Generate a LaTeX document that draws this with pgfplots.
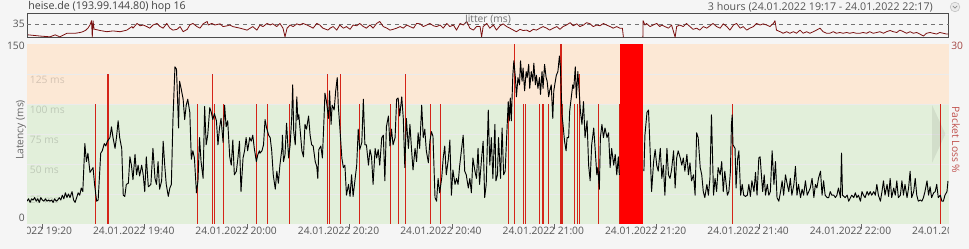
\documentclass[border=0pt]{standalone}
\usepackage{fontspec}
\setmainfont{Open Sans}
\usepackage{pgfplots}
\pgfplotsset{compat=1.18}
\definecolor{bgc}{HTML}{F5F5F5}
\definecolor{okgreen}{HTML}{E2EFDA}
\definecolor{warnpeach}{HTML}{FCE8D5}
\definecolor{lossred}{HTML}{D42418}
\definecolor{jitred}{HTML}{7A1010}
\definecolor{txt}{HTML}{555555}
\definecolor{losstxt}{HTML}{C0504D}
\newcommand{\fs}{\fontsize{7.7}{9}\selectfont}
\tikzset{tl/.style={font=\fs, text=txt, anchor=north, inner sep=0pt, xshift=-8.25pt, yshift=-2pt}}
\begin{document}
\begin{tikzpicture}
\fill[bgc] (0,0) rectangle (726.75pt,186.75pt);
% ---------- background axis (latency scale, bands, ticks)
\begin{axis}[
  scale only axis, width=691.125pt, height=135pt,
  at={(20.25pt,18.75pt)}, anchor=south west,
  xmin=0, xmax=180, ymin=0, ymax=150,
  axis x line*=bottom, axis y line*=left,
  axis line style={draw=black!60, line width=0.75pt},
  ytick=\empty,
  xtick={3,23,...,163}, xticklabels={,,,,,,,,},
  xtick align=outside, major tick length=4pt,
  tick style={draw=black!60, line width=0.6pt},
  clip=false]
\fill[okgreen] (axis cs:0,0) rectangle (axis cs:180,100);
\fill[warnpeach] (axis cs:0,100) rectangle (axis cs:180,150);
\pgfplotsinvokeforeach{25,50,75,100,125}{
  \draw[black!8, line width=0.6pt] (axis cs:0,#1) -- (axis cs:180,#1);
  \node[anchor=north west, font=\fs, text=black, text opacity=0.16, inner sep=0pt, xshift=2pt, yshift=-1.5pt] at (axis cs:0,#1) {#1 ms};
}
\begin{scope}
\clip ([yshift=-20pt]axis cs:0,0) rectangle (axis cs:180,0);
\node[tl] at (axis cs:3,0) {24.01.2022 19:20};
\node[tl] at (axis cs:23,0) {24.01.2022 19:40};
\node[tl] at (axis cs:43,0) {24.01.2022 20:00};
\node[tl] at (axis cs:63,0) {24.01.2022 20:20};
\node[tl] at (axis cs:83,0) {24.01.2022 20:40};
\node[tl] at (axis cs:103,0) {24.01.2022 21:00};
\node[tl] at (axis cs:123,0) {24.01.2022 21:20};
\node[tl] at (axis cs:143,0) {24.01.2022 21:40};
\node[tl] at (axis cs:163,0) {24.01.2022 22:00};
\node[tl] at (axis cs:183,0) {24.01.2022 22:20};
\end{scope}
\end{axis}
% ---------- packet loss axis
\begin{axis}[
  scale only axis, width=691.125pt, height=135pt,
  at={(20.25pt,18.75pt)}, anchor=south west,
  xmin=0, xmax=180, ymin=0, ymax=30, hide axis]
\addplot[ycomb, draw=lossred, line width=0.85pt, mark=none] coordinates {
(13.4,20)(15.7,25)(15.9,25)(33.3,20)(36.2,25)(36.7,20)(38.3,20)(44.9,20)(46.9,20)(51.2,20)
(58.7,25)(59.1,20)(61.2,25)(64.9,20)(71.0,20)(72.5,20)(73.9,25)(78.8,20)(80.8,20)
(94.1,20)(95.3,30)(96.9,20)(97.4,20)(100.1,20)(100.8,20)(101.8,20)(104.3,30)(104.5,20)
(107.0,20)(107.6,20)(108.0,25)(111.7,20)(115.8,20)(137.8,20)(178.5,20)};
\addplot[fill=red, draw=none, mark=none] coordinates {(115.9,0)(115.9,30)(120.4,30)(120.4,0)} -- cycle;
\end{axis}
% ---------- latency line
\begin{axis}[
  scale only axis, width=691.125pt, height=135pt,
  at={(20.25pt,18.75pt)}, anchor=south west,
  xmin=0, xmax=180, ymin=0, ymax=150, hide axis, unbounded coords=jump]
\addplot[black, line width=0.7pt, line join=round, mark=none] coordinates {
(0,19)(0.3,21)(0.6,18)(0.9,21)(1.2,20)(1.5,22)(1.8,19)(2.1,21)(2.4,18)(2.7,22)(3.0,20)(3.3,19)(3.6,21)(3.9,19)(4.2,20)(4.5,19)(4.8,20)(5.1,18)(5.4,21)(5.7,19)(6.0,20)(6.3,22)(6.6,20)(6.9,24)(7.2,21)(7.5,26)(7.8,22)(8.1,25)(8.4,22)(8.8,27)(9.1,20)(9.4,18)(9.7,22)(10.0,26)(10.3,24)(10.6,30)(10.9,27)(11.3,67)(11.6,52)(11.9,59)(12.3,43)(12.6,45)(12.9,47)(13.2,33)(13.6,19)(13.9,20)(14.4,59)(14.7,61)(15.1,67)(15.4,65)(15.7,69)(16.2,72)(16.5,81)(16.8,72)(17.2,63)(17.5,73)(17.8,86)(18.1,72)(18.5,63)(18.8,24)(19.1,23)(19.4,33)(19.8,34)(20.1,56)(20.4,49)(20.7,37)(21.1,58)(21.4,41)(21.7,49)(22.0,40)(22.4,49)(22.7,41)(23.0,27)(23.3,56)(23.7,31)(24.2,33)(24.6,63)(25.0,38)(25.3,33)(25.6,52)(25.9,29)(26.3,36)(26.6,69)(26.9,49)(27.2,33)(27.6,23)(27.9,30)(28.2,33)(28.5,86)(28.9,131)(29.2,129)(29.5,93)(29.6,80)(29.8,119)(30.1,113)(30.5,104)(30.8,87)(31.1,99)(31.4,104)(31.8,93)(32.1,54)(32.4,61)(32.7,55)(33.1,26)(33.4,36)(33.7,72)(34.0,52)(34.4,38)(34.7,98)(35.0,66)(35.3,74)(35.7,97)(36.0,93)(36.3,87)(36.6,92)(37.0,86)(37.3,66)(37.6,80)(37.9,88)(38.3,68)(38.6,99)(38.9,81)(39.2,86)(39.6,56)(39.9,49)(40.2,70)(40.5,41)(40.9,44)(41.2,55)(41.5,69)(41.8,27)(42.2,55)(42.5,61)(42.8,72)(43.1,61)(43.5,72)(43.8,69)(44.1,74)(44.4,63)(44.8,52)(45.1,58)(45.4,61)
(45.5,59)(45.9,61)(46.2,66)(46.5,87)(46.8,80)(47.2,74)(47.5,72)(47.8,61)(48.1,41)(48.5,29)(48.8,44)(49.1,34)(49.4,49)(49.8,63)(49.9,74)(50.1,52)(50.4,58)(50.7,84)(51.1,55)(51.4,66)(51.7,88)(51.9,116)(52.1,77)(52.4,66)(52.7,106)(52.9,87)(53.1,91)(53.4,76)(53.7,61)(54.0,56)(54.3,83)(54.6,79)(55.0,90)(55.3,74)(55.6,66)(55.9,65)(56.3,52)(56.6,48)(56.8,38)(57.0,62)(57.4,65)(57.7,55)(58.0,86)(58.2,109)(58.5,102)(58.9,88)(59.1,111)(59.4,83)(59.6,99)(60.0,95)(60.3,111)(60.6,122)(60.8,99)(61.1,81)(61.5,55)(61.8,47)(62.1,49)(62.4,24)(62.8,33)(63.1,23)(63.4,41)(63.7,23)(64.1,38)(64.4,49)(64.7,79)(65.0,62)(65.4,68)(65.7,104)(66.0,66)(66.3,66)(66.7,49)(67.0,62)(67.3,56)(67.6,33)(68.0,63)(68.3,55)(68.6,62)(68.9,49)(69.3,72)(69.6,74)(69.9,36)(70.2,81)(70.6,90)(70.9,65)(71.2,79)(71.5,66)(71.9,72)(72.2,104)(72.5,105)(72.8,90)(73.2,106)(73.5,88)(73.8,47)(74.1,88)(74.5,63)(74.8,83)(75.1,63)(75.4,45)(75.8,63)(76.1,52)(76.4,76)(76.7,63)(77.1,99)(77.4,72)(77.7,79)(78.0,61)(78.4,51)(78.7,69)(79.0,77)(79.3,73)(79.7,22)(80.0,19)(80.3,38)(80.6,26)(81.0,38)(81.3,55)(81.6,65)(81.9,41)(82.3,54)(82.6,70)(82.9,24)(83.2,45)(83.6,33)(83.9,38)(84.2,33)(84.5,48)(84.9,63)(85.2,74)(85.5,44)(85.8,41)(86.2,30)(86.5,38)(86.8,26)(87.1,55)(87.5,44)(87.8,38)(88.1,63)(88.4,33)(88.8,55)(89.1,69)(89.4,22)(89.7,33)(90.1,95)(90.4,49)(90.7,72)
(91.0,38)(91.4,83)(91.6,36)(91.9,41)(92.1,72)(92.5,38)(92.8,80)(93.1,41)(93.4,44)(93.8,83)(94.0,102)(94.2,86)(94.4,105)(94.6,86)(94.9,124)(95.1,136)(95.4,122)(95.6,106)(95.9,122)(96.2,116)(96.4,136)(96.7,119)(96.9,130)(97.2,111)(97.5,127)(97.7,122)(98.0,133)(98.2,113)(98.5,127)(98.8,119)(99.0,134)(99.3,116)(99.5,124)(99.8,113)(100.1,122)(100.3,108)(100.6,127)(100.8,113)(101.1,133)(101.4,122)(101.6,119)(101.9,106)(102.1,111)(102.4,116)(102.7,88)(102.9,111)(103.2,119)(103.4,124)(103.7,127)(104.0,140)(104.2,130)(104.5,91)(104.7,83)(105.0,69)(105.3,61)(105.5,72)(105.8,72)(106.0,94)(106.3,105)(106.6,116)(106.8,113)(107.1,131)(107.3,105)(107.6,127)(107.9,108)(108.1,94)(108.4,83)(108.7,102)(109.0,72)(109.4,86)(109.7,49)(110.0,36)(110.3,66)(110.7,80)(111.0,61)(111.3,41)(111.5,47)(111.8,29)(112.0,72)(112.3,83)(112.6,72)(112.9,80)(113.3,72)(113.6,76)(113.9,47)(114.2,63)(114.6,49)(114.9,58)(115.2,41)(115.5,56)(115.7,41)(118,nan)
(120.5,44)(120.7,74)(121.1,93)(121.4,95)(121.7,63)(122.0,27)(122.4,52)(122.7,62)(123.0,49)(123.3,44)(123.7,63)(124.0,38)(124.3,49)(124.6,24)(125.0,63)(125.3,41)(125.6,38)(125.9,45)(126.3,61)(126.6,30)(126.9,55)(127.2,61)(127.6,55)(127.9,49)(128.2,55)(128.5,44)(128.9,58)(129.2,41)(129.5,51)(129.8,36)(130.2,41)(130.5,24)(130.8,76)(131.1,72)(131.5,47)(131.8,41)(132.1,27)(132.4,22)(132.8,33)(133.1,24)(133.4,38)(133.7,91)(134.1,24)(134.4,38)(134.7,27)(135.0,47)(135.4,41)(135.7,52)(136.0,27)(136.3,44)
(136.8,24)(137.1,27)(137.4,44)(137.6,83)(137.75,91)(137.9,66)(138.3,63)(138.5,30)(138.8,54)(139.05,61)(139.4,24)(139.7,33)(140.0,24)(140.35,23)(140.7,24)(141.0,33)(141.3,23)(141.6,36)(142.0,27)(142.3,43)(142.6,24)(142.95,55)(143.2,56)(143.5,38)(143.7,27)(144.0,41)(144.25,24)(144.6,33)(144.9,24)(145.2,27)(145.55,61)(145.9,33)(146.2,52)(146.5,22)(146.85,19)(147.2,27)(147.5,36)(147.8,24)(148.15,41)(148.5,33)(148.8,27)(149.1,38)(149.4,24)(149.8,33)(150.1,48)(150.4,24)(150.7,33)(151.1,22)(151.4,29)(151.7,24)(152.05,36)(152.4,24)(152.7,27)(153.0,30)(153.35,38)(153.7,22)(154.0,33)(154.3,30)(154.6,38)(155.0,44)(155.3,24)(155.6,36)(155.9,24)(156.3,22)(156.6,22)(156.9,27)(157.2,24)(157.6,24)(157.9,22)(158.2,24)(158.5,30)(158.9,22)(159.1,59)(159.3,24)(159.8,22)(160.2,24)(160.5,19)(161.1,24)(161.5,22)(161.8,26)(162.1,22)(162.4,24)(162.8,19)(163.1,27)(163.4,24)(163.7,22)(164.1,27)(164.4,24)(164.7,27)(165.0,24)(165.4,27)(165.7,24)(166.0,33)(166.3,24)(166.7,19)(167.0,27)(167.3,36)(167.6,24)(168.0,33)(168.3,23)(168.6,38)(168.9,22)(169.3,30)(169.6,24)(169.9,36)(170.2,22)(170.6,24)(170.9,36)(171.2,24)(171.5,33)(171.9,22)(172.2,30)(172.5,44)(172.8,22)(173.2,27)(173.5,38)(173.8,24)(174.1,19)(174.5,20)(174.8,19)(175.1,22)(175.4,27)(175.8,36)(176.1,24)(176.4,31)(176.7,22)(177.1,26)(177.4,27)(177.7,33)(178.0,22)(178.4,24)(178.7,19)(179.0,19)(179.3,24)(179.7,27)(179.9,36)};
\end{axis}
% ---------- jitter strip
\begin{axis}[
  scale only axis, width=691.125pt, height=18pt,
  at={(20.25pt,158.25pt)}, anchor=south west,
  xmin=0, xmax=180, ymin=0, ymax=61,
  axis line style={draw=black!70, line width=0.75pt},
  xtick=\empty, ytick=\empty, unbounded coords=jump, clip=false]
\draw[black!55, dash pattern=on 3pt off 3pt, line width=0.5pt] (axis cs:0,35) -- (axis cs:180,35);
\addplot[jitred, line width=0.6pt, line join=round, mark=none] coordinates {
(0.2,8)(2.5,5)(4.5,3)(5.5,8)(6.4,3)(7.8,12)(9.4,12)(10.4,14)(10.9,16)(11.5,20)(11.9,25)(12.3,33)(12.6,44)(12.75,2)(12.9,44)(13.1,22)(13.3,22)(14.3,19)(15.6,16)(16.8,18)(18.2,16)(19.5,20)(20.5,29)(20.7,25)(21.5,37)(22.1,31)(22.7,33)(23.4,29)(24.0,25)(24.6,33)(25.4,37)(26.0,29)(26.6,25)(27.3,37)(27.9,25)(28.5,20)(29.3,22)(29.9,29)(30.5,16)(31.3,22)(31.8,33)(32.4,37)(33.2,29)(33.8,25)(34.4,36)(35.2,42)(35.4,33)(36.1,37)(36.7,33)(37.7,36)(38.3,29)(39.1,31)(39.6,33)(40.2,29)(41.6,25)(43.0,20)(43.6,25)(44.1,29)(44.9,20)(45.5,33)(46.1,29)(46.9,37)(47.5,33)(48.0,36)(48.8,29)(49.4,37)(50.0,25)(50.4,3)(50.8,25)(51.4,33)(52.0,29)(52.7,36)(53.3,33)(53.9,37)(54.7,33)(55.3,29)(55.9,25)(56.6,37)(57.2,33)(57.8,25)(58.8,20)
(59.2,25)(59.8,29)(60.5,20)(61.1,33)(61.8,25)(62.4,29)(63.1,22)(63.7,33)(64.4,31)(65.0,37)(65.7,29)(66.3,25)(67.0,33)(67.6,25)(68.3,37)(68.9,42)(69.6,29)(70.3,25)(70.9,20)(71.5,22)(72.2,25)(72.9,29)(73.5,25)(74.2,33)(74.8,29)(75.5,25)(76.1,37)(76.8,36)(77.4,29)(78.1,33)(78.7,37)(79.4,31)(80.0,29)(80.7,33)(81.3,25)(82.0,37)(82.6,29)(83.3,33)(83.9,20)(84.6,37)(85.2,33)(85.9,42)(86.5,25)(87.2,20)(87.8,29)(88.5,29)(88.8,3)(89.1,29)(89.8,37)(90.4,25)(91.1,33)(91.7,20)(92.4,31)(93.0,36)(93.7,29)(94.3,25)(95.0,20)(95.6,16)(96.3,22)(96.9,19)(97.6,20)(98.2,16)(98.9,22)(99.5,20)(100.2,25)(100.8,29)(101.5,25)(102.1,20)(102.8,25)(103.5,29)(104.1,22)(104.7,29)(105.4,33)(106.1,39)(106.7,31)(107.4,36)(108.0,29)(108.7,33)(109.3,39)(110.0,36)(110.6,29)(111.3,33)(111.9,31)(112.6,37)(113.2,33)(113.9,29)(114.5,25)(115.2,29)(115.8,25)(116.3,25)(116.5,2)(118,nan)
(120.3,2)(120.35,44)(120.7,33)(121.0,37)(121.7,29)(122.3,33)(123.0,37)(123.6,29)(124.0,33)(124.6,29)(125.3,25)(125.9,33)(126.2,20)(126.6,2)(126.9,29)(127.5,33)(128.2,29)(128.8,37)(129.5,29)(130.1,22)(130.8,25)(131.4,20)(132.1,29)(132.8,25)(133.4,31)(134.0,37)(134.7,29)(135.4,25)(136.0,36)(136.7,29)(137.3,20)(138.0,33)(138.6,37)(139.3,25)(139.9,29)(140.6,20)(141.2,25)(141.9,29)(142.5,37)(143.2,33)(143.8,36)(144.5,33)(145.1,29)(145.8,37)(146.1,44)(146.4,20)(147.1,16)(147.7,12)(148.4,16)(149.0,12)(149.7,16)(150.3,12)(151.0,20)(151.6,12)(152.3,16)(152.9,12)(153.6,16)(154.2,20)(154.9,25)(155.5,16)(156.2,12)(156.8,12)(157.5,16)(158.1,12)(158.8,14)(159.4,12)(160.1,14)(160.7,12)(161.4,14)(162.0,12)(162.7,12)(163.3,14)(164.0,12)(164.6,16)(165.3,12)(166.0,14)(166.6,16)(167.3,12)(167.9,16)(168.6,19)(169.2,16)(169.9,14)(170.5,20)(171.2,16)(171.8,12)(172.5,16)(173.1,12)(173.8,14)(174.4,10)(175.1,5)(175.7,12)(176.4,14)(177.0,12)(177.7,10)(178.3,14)(179.0,12)(179.6,10)(180,10)};
\end{axis}
% ---------- texts
\node[anchor=west, font=\fontsize{8}{9.6}\selectfont, text=black!75, inner sep=0pt] at (21pt,181.5pt) {heise.de (193.99.144.80) hop 16};
\node[anchor=east, font=\fontsize{8}{9.6}\selectfont, text=txt, inner sep=0pt] at (699.75pt,181.5pt) {3 hours (24.01.2022 19:17 - 24.01.2022 22:17)};
\draw[black!25, fill=black!8, line width=0.4pt] (716.25pt,181.5pt) circle (3.6pt);
\draw[black!45, line width=0.5pt] (714.6pt,182.3pt) -- (716.25pt,180.6pt) -- (717.9pt,182.3pt);
\node[font=\fs, text=black!55, inner sep=0pt] at (366pt,171.75pt) {Jitter (ms)};
\node[anchor=east, font=\fs, text=txt, inner sep=0pt] at (18.75pt,168.75pt) {35};
\node[anchor=east, font=\fs, text=txt, inner sep=0pt] at (18.75pt,152.25pt) {150};
\node[anchor=east, font=\fs, text=txt, inner sep=0pt] at (18.75pt,23.25pt) {0};
\node[rotate=90, font=\fs, text=black!60, inner sep=0pt] at (15.75pt,89.25pt) {Latency (ms)};
\node[anchor=west, font=\fs, text=losstxt!85!black, inner sep=0pt] at (713.25pt,152.25pt) {30};
\node[rotate=-90, font=\fs, text=losstxt, inner sep=0pt] at (717pt,81.75pt) {Packet Loss \%};
\fill[black, opacity=0.07] (699pt,108pt) -- (709pt,86.25pt) -- (699pt,64.5pt) -- cycle;
\pgfresetboundingbox
\useasboundingbox (0,0) rectangle (726.75pt,186.75pt);
\end{tikzpicture}
\end{document}
